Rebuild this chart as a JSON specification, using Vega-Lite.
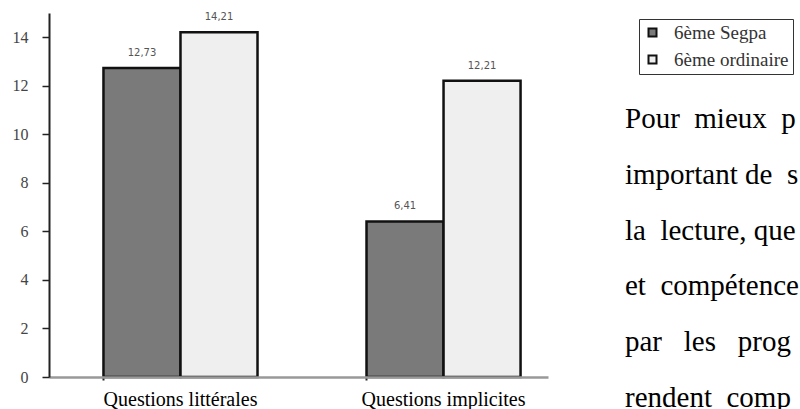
{
  "$schema": "https://vega.github.io/schema/vega-lite/v6.json",
  "padding": {"left": 12, "top": 12, "right": 0, "bottom": 0},
  "background": "white",
  "config": {
    "view": {"stroke": null},
    "locale": {"number": {"decimal": ",", "thousands": " ", "grouping": [3], "currency": ["", " €"]}}
  },
  "datasets": {
    "scores": [
      {"question": "Questions littérales", "classe": "6ème Segpa", "score": 12.73},
      {"question": "Questions littérales", "classe": "6ème ordinaire", "score": 14.21},
      {"question": "Questions implicites", "classe": "6ème Segpa", "score": 6.41},
      {"question": "Questions implicites", "classe": "6ème ordinaire", "score": 12.21}
    ],
    "paragraph": [
      {"ligne": 1, "texte": "Pour\u00a0 mieux\u00a0 p"},
      {"ligne": 2, "texte": "important de\u00a0 s"},
      {"ligne": 3, "texte": "la\u00a0 lecture, que"},
      {"ligne": 4, "texte": "et\u00a0 compétence"},
      {"ligne": 5, "texte": "par\u00a0\u00a0 les\u00a0\u00a0 prog"},
      {"ligne": 6, "texte": "rendent\u00a0 comp"}
    ]
  },
  "spacing": 77,
  "hconcat": [
    {
      "width": 499,
      "height": 364,
      "data": {"name": "scores"},
      "encoding": {
        "x": {
          "field": "question",
          "type": "nominal",
          "sort": ["Questions littérales", "Questions implicites"],
          "scale": {"paddingInner": 0.4144, "paddingOuter": 0.1557, "align": 0.665},
          "axis": {
            "title": null,
            "labelAngle": 0,
            "bandPosition": 0,
            "labelFont": "Liberation Serif",
            "labelFontSize": 20,
            "labelColor": "#000",
            "labelBaseline": "alphabetic",
            "labelPadding": 25,
            "tickSize": 3,
            "tickWidth": 2,
            "tickColor": "#222",
            "domainColor": "#999",
            "domainWidth": 2.5,
            "zindex": 1
          }
        },
        "xOffset": {
          "field": "classe",
          "type": "nominal",
          "sort": ["6ème Segpa", "6ème ordinaire"],
          "scale": {"paddingInner": 0, "paddingOuter": 0}
        },
        "y": {
          "field": "score",
          "type": "quantitative",
          "scale": {"domain": [0, 15], "nice": false},
          "axis": {
            "title": null,
            "values": [0, 2, 4, 6, 8, 10, 12, 14],
            "grid": false,
            "labelFont": "Liberation Serif",
            "labelFontSize": 16,
            "labelColor": "#444",
            "labelPadding": 14,
            "tickSize": 7,
            "tickWidth": 1.5,
            "tickColor": "#222",
            "domainColor": "#222",
            "domainWidth": 2,
            "zindex": 1
          }
        }
      },
      "layer": [
        {
          "mark": {"type": "bar", "stroke": "#111", "strokeWidth": 2.5},
          "encoding": {
            "color": {
              "field": "classe",
              "type": "nominal",
              "sort": ["6ème Segpa", "6ème ordinaire"],
              "scale": {"domain": ["6ème Segpa", "6ème ordinaire"], "range": ["#7a7a7a", "#efefef"]},
              "legend": {
                "orient": "none",
                "legendX": 590,
                "legendY": 6,
                "title": null,
                "direction": "vertical",
                "symbolType": "square",
                "symbolSize": 64,
                "symbolStrokeColor": "#111",
                "symbolStrokeWidth": 2,
                "labelFont": "Liberation Serif",
                "labelFontSize": 19,
                "labelColor": "#333",
                "labelOffset": 12,
                "rowPadding": 7,
                "padding": 4,
                "strokeColor": "#333",
                "fillColor": "white"
              }
            }
          }
        },
        {
          "mark": {"type": "text", "dy": -15, "font": "DejaVu Sans", "fontSize": 10, "color": "#555"},
          "encoding": {
            "text": {"field": "score", "type": "quantitative", "format": ".2f"}
          }
        }
      ]
    },
    {
      "width": 175,
      "height": 397,
      "data": {"name": "paragraph"},
      "mark": {
        "type": "text",
        "align": "left",
        "baseline": "alphabetic",
        "font": "Liberation Serif",
        "fontSize": 29,
        "color": "#000",
        "clip": true
      },
      "encoding": {
        "x": {"datum": 0, "type": "quantitative", "scale": {"domain": [0, 1]}, "axis": null},
        "y": {
          "field": "ligne",
          "type": "quantitative",
          "scale": {"domain": [-1.061, 6.054], "reverse": true, "nice": false, "zero": false},
          "axis": null
        },
        "text": {"field": "texte", "type": "nominal"}
      }
    }
  ]
}
